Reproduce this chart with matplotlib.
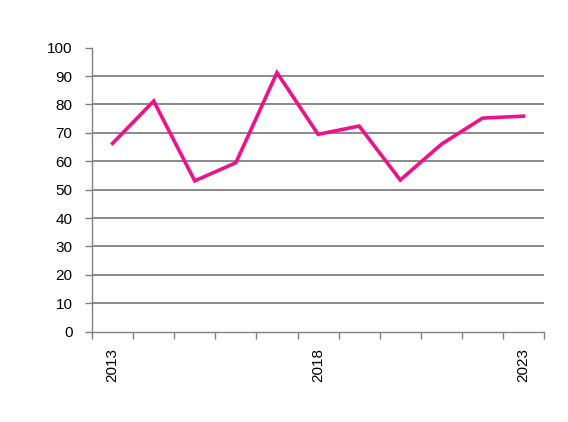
import numpy as np
import matplotlib
matplotlib.use("Agg")
import matplotlib.pyplot as plt
from matplotlib.ticker import FixedLocator

years = [2013, 2014, 2015, 2016, 2017, 2018, 2019, 2020, 2021, 2022, 2023]
values = [66.3, 81.2, 53.1, 59.5, 91.2, 69.5, 72.4, 53.4, 66.0, 75.2, 75.9]
shown_years = [2013, 2018, 2023]

plt.rcParams['font.family'] = ['Liberation Sans', 'DejaVu Sans']
plt.rcParams['font.size'] = 11

fig = plt.figure(figsize=(5.68, 4.22), dpi=100)
ax = fig.add_axes([0.162, 0.214, 0.796, 0.673])

x = np.arange(len(years))
ax.plot(x, values, color='#EE1289', lw=2.6, solid_joinstyle='miter', zorder=3)

ax.set_xlim(-0.5, len(years) - 0.5)
ax.set_ylim(0, 100)
ax.set_yticks(np.arange(0, 101, 10))
for yv in range(10, 100, 10):
    ax.axhline(yv, color='#808080', lw=1.3, zorder=1)

ax.set_xticks([years.index(y) for y in shown_years])
ax.set_xticklabels([str(y) for y in shown_years], rotation=90)
ax.xaxis.set_minor_locator(FixedLocator(np.arange(-0.5, len(years), 1.0)))
ax.tick_params(axis='x', which='major', length=0, pad=12)
ax.tick_params(axis='x', which='minor', length=5, color='#808080', width=1)
ax.tick_params(axis='y', length=5, color='#808080', width=1, pad=9)

for s in ['top', 'right']:
    ax.spines[s].set_visible(False)
for s in ['left', 'bottom']:
    ax.spines[s].set_color('#808080')
    ax.spines[s].set_linewidth(1)

fig.savefig('out.png', dpi=100)
